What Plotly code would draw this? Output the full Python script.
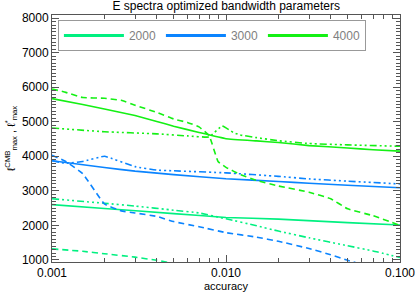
import plotly.graph_objects as go

# ---------------- data ----------------
# lmax = 4000 (green)
acc_4000_solid = [0.001, 0.0015, 0.002, 0.003, 0.004, 0.005, 0.007, 0.01, 0.015, 0.02, 0.03, 0.05, 0.07, 0.1]
val_4000_solid = [5670, 5500, 5370, 5180, 5010, 4870, 4690, 4510, 4445, 4400, 4310, 4240, 4190, 4150]

acc_4000_dash = [0.001, 0.0012, 0.0015, 0.002, 0.0025, 0.003, 0.004, 0.005, 0.006, 0.007, 0.008, 0.009, 0.01, 0.012, 0.015, 0.02, 0.03, 0.04, 0.05, 0.07, 0.1]
val_4000_dash = [5950, 5850, 5700, 5680, 5620, 5480, 5270, 5080, 4980, 4850, 4600, 3850, 3680, 3480, 3300, 3140, 2960, 2770, 2480, 2280, 2000]

acc_4000_dd = [0.001, 0.002, 0.004, 0.006, 0.008, 0.0095, 0.011, 0.012, 0.015, 0.02, 0.03, 0.05, 0.1]
val_4000_dd = [4820, 4710, 4650, 4590, 4560, 4880, 4690, 4620, 4540, 4450, 4370, 4330, 4290]

# lmax = 3000 (blue)
acc_3000_solid = [0.001, 0.002, 0.003, 0.005, 0.01, 0.02, 0.03, 0.05, 0.1]
val_3000_solid = [3870, 3675, 3570, 3470, 3350, 3270, 3220, 3160, 3090]

acc_3000_dash = [0.001, 0.0012, 0.0015, 0.002, 0.0025, 0.003, 0.004, 0.005, 0.007, 0.01, 0.015, 0.02, 0.03, 0.04, 0.05, 0.06]
val_3000_dash = [4030, 3850, 3500, 2620, 2420, 2360, 2260, 2110, 1960, 1790, 1660, 1540, 1330, 1150, 990, 870]

acc_3000_dd = [0.001, 0.0012, 0.0015, 0.002, 0.003, 0.004, 0.005, 0.01, 0.02, 0.03, 0.05, 0.1]
val_3000_dd = [3870, 3800, 3850, 4000, 3700, 3600, 3580, 3520, 3420, 3345, 3280, 3200]

# lmax = 2000 (spring green)
acc_2000_solid = [0.001, 0.002, 0.005, 0.01, 0.02, 0.05, 0.1]
val_2000_solid = [2600, 2490, 2340, 2230, 2180, 2080, 2010]

acc_2000_dash = [0.001, 0.0015, 0.002, 0.003, 0.004, 0.005]
val_2000_dash = [1320, 1250, 1180, 1080, 990, 900]

acc_2000_dd = [0.001, 0.002, 0.003, 0.005, 0.007, 0.01, 0.015, 0.02, 0.03, 0.05, 0.07, 0.1]
val_2000_dd = [2770, 2640, 2560, 2440, 2360, 2190, 1990, 1835, 1640, 1410, 1260, 1070]

legend_labels = ["2000", "3000", "4000"]
x_tickvals = [0.001, 0.01, 0.1]
x_ticktext = ["0.001", "0.010", "0.100"]
x_minor_tickvals = [0.002, 0.003, 0.004, 0.005, 0.006, 0.007, 0.008, 0.009,
                    0.02, 0.03, 0.04, 0.05, 0.06, 0.07, 0.08, 0.09]
y_tickvals = [1000, 2000, 3000, 4000, 5000, 6000, 7000, 8000]

# ---------------- styling ----------------
colors = {"2000": "#00F080", "3000": "#0A84FF", "4000": "#14F014"}
DD = "7px,3px,2px,3px,2px,3px,2px,3px"
FONT = "Liberation Sans, Arial, sans-serif"

series = [
    ("2000", acc_2000_solid, val_2000_solid, "solid"),
    ("2000", acc_2000_dash, val_2000_dash, "6px,4px"),
    ("2000", acc_2000_dd, val_2000_dd, DD),
    ("3000", acc_3000_solid, val_3000_solid, "solid"),
    ("3000", acc_3000_dash, val_3000_dash, "6px,4px"),
    ("3000", acc_3000_dd, val_3000_dd, DD),
    ("4000", acc_4000_solid, val_4000_solid, "solid"),
    ("4000", acc_4000_dash, val_4000_dash, "6px,4px"),
    ("4000", acc_4000_dd, val_4000_dd, DD),
]

fig = go.Figure()
for key, xs, ys, dash in series:
    fig.add_trace(go.Scatter(
        x=xs, y=ys, mode="lines", showlegend=False, hoverinfo="skip",
        line=dict(color=colors[key], width=1.6, dash=dash, shape="spline", smoothing=0.3),
    ))

for lab in legend_labels:
    fig.add_trace(go.Scatter(
        x=[None], y=[None], mode="lines", name=lab,
        line=dict(color=colors[lab], width=3),
    ))

axis_common = dict(
    showline=True, linecolor="#555", linewidth=1, mirror="allticks",
    ticks="inside", tickcolor="#555", ticklen=7, tickwidth=1,
    showgrid=False, zeroline=False, automargin=False,
    ticklabeloverflow="allow",
    tickfont=dict(family=FONT, size=12, color="black"),
)

fig.update_xaxes(
    type="log", range=[-3.0002, -0.9998],
    tickvals=x_tickvals, ticktext=x_ticktext,
    minor=dict(ticks="inside", ticklen=4, tickcolor="#555", tickvals=x_minor_tickvals, showgrid=False),
    title=dict(text="accuracy", font=dict(family=FONT, size=11, color="black"), standoff=2),
    **axis_common,
)
fig.update_yaxes(
    range=[940, 8090], tickvals=y_tickvals,
    minor=dict(ticks="inside", ticklen=4, tickcolor="#555", dtick=100, showgrid=False),
    title=dict(text="ℓ<sup>CMB</sup><sub>max</sub> , ℓ<sup>*</sup><sub>max</sub>",
               font=dict(family=FONT, size=11, color="black"), standoff=4),
    **axis_common,
)

fig.update_layout(
    width=415, height=295,
    margin=dict(l=52, r=15, t=15, b=33),
    paper_bgcolor="white", plot_bgcolor="white",
    title=dict(text="E spectra optimized bandwidth parameters",
               font=dict(family=FONT, size=12, color="black"),
               x=0.545, xanchor="center", y=0.995, yanchor="top"),
    legend=dict(
        orientation="h", x=0.017, xanchor="left", y=0.98, yanchor="top",
        bgcolor="white", bordercolor="#999", borderwidth=1,
        font=dict(family=FONT, size=12, color="#808080"),
        itemwidth=60, entrywidth=27, entrywidthmode="pixels",
        tracegroupgap=0,
    ),
)

fig.write_html("out.html", config={"displayModeBar": False},
               post_script="document.body.style.margin='0';")
